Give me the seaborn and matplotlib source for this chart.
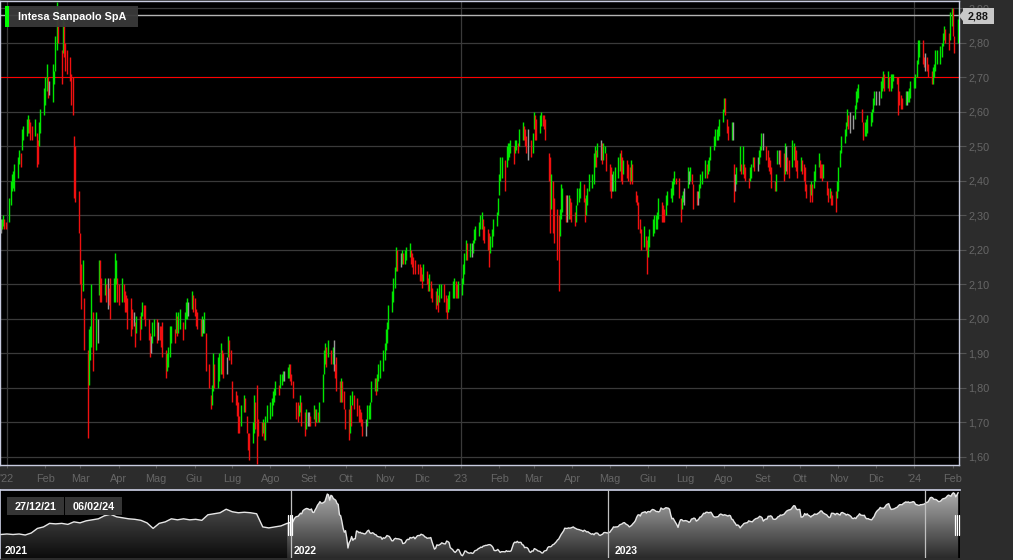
import numpy as np
import pandas as pd
import matplotlib
matplotlib.use("Agg")
import matplotlib.pyplot as plt
import matplotlib.dates as mdates
from matplotlib.colors import LinearSegmentedColormap
from matplotlib.patches import Polygon, Rectangle
import seaborn as sns

# daily (high, low) bars, one list per month
dec21 = [(2.29, 2.25), (2.29, 2.26), (2.30, 2.27), (2.29, 2.26), (2.28, 2.26)]
jan22 = [(2.35, 2.28), (2.40, 2.33), (2.42, 2.37), (2.43, 2.38), (2.45, 2.37),
         (2.47, 2.41), (2.49, 2.45), (2.48, 2.44), (2.55, 2.49), (2.56, 2.52),
         (2.58, 2.53), (2.59, 2.54), (2.58, 2.54), (2.57, 2.52), (2.56, 2.52),
         (2.58, 2.53), (2.54, 2.44), (2.52, 2.45), (2.57, 2.50), (2.61, 2.54),
         (2.67, 2.59)]
feb22 = [(2.70, 2.62), (2.74, 2.66), (2.70, 2.64), (2.69, 2.65), (2.74, 2.63),
         (2.72, 2.68), (2.82, 2.72), (2.92, 2.78), (2.87, 2.80), (2.78, 2.68),
         (2.88, 2.77), (2.86, 2.76), (2.80, 2.72), (2.78, 2.71), (2.76, 2.69),
         (2.71, 2.62), (2.70, 2.59), (2.53, 2.35), (2.50, 2.34), (2.37, 2.25)]
mar22 = [(2.25, 2.10), (2.16, 2.03), (2.17, 2.08), (2.06, 1.91), (1.91, 1.655),
         (1.97, 1.81), (1.98, 1.88), (2.10, 1.92), (2.02, 1.85), (2.02, 1.91),
         (2.00, 1.93), (2.17, 2.07), (2.17, 2.05), (2.12, 2.05), (2.12, 2.07),
         (2.10, 2.05), (2.12, 2.03), (2.09, 2.04), (2.12, 2.00), (2.12, 2.05),
         (2.19, 2.05), (2.17, 2.10), (2.12, 2.05)]
apr22 = [(2.10, 2.04), (2.12, 2.05), (2.10, 2.05), (2.08, 2.02), (2.07, 2.02),
         (2.06, 1.97), (2.06, 1.95), (2.03, 1.97), (2.02, 1.98), (1.99, 1.92),
         (2.01, 1.96), (2.01, 1.94), (2.02, 1.97), (2.05, 2.01), (2.04, 2.00),
         (2.04, 1.98), (2.00, 1.94), (1.96, 1.89), (1.95, 1.90), (1.99, 1.93),
         (2.00, 1.95)]
may22 = [(2.00, 1.93), (1.99, 1.94), (1.98, 1.94), (1.98, 1.92), (1.99, 1.89),
         (1.91, 1.83), (1.90, 1.85), (1.92, 1.86), (1.98, 1.89), (1.98, 1.93),
         (1.97, 1.93), (2.02, 1.96), (2.01, 1.95), (2.02, 1.96), (2.03, 1.97),
         (1.99, 1.94), (2.02, 1.97), (2.05, 2.00), (2.06, 2.00), (2.05, 2.01),
         (2.08, 2.03), (2.07, 2.02)]
jun22 = [(2.06, 2.01), (2.03, 1.98), (2.02, 1.97), (2.00, 1.95), (2.01, 1.95),
         (2.00, 1.96), (2.02, 1.96), (1.96, 1.85), (1.87, 1.80), (1.78, 1.74),
         (1.81, 1.75), (1.90, 1.79), (1.87, 1.80), (1.89, 1.80), (1.90, 1.82),
         (1.93, 1.84), (1.91, 1.84), (1.90, 1.83), (1.89, 1.84), (1.95, 1.89),
         (1.94, 1.88), (1.91, 1.87)]
jul22 = [(1.82, 1.76), (1.79, 1.75), (1.78, 1.72), (1.76, 1.67), (1.72, 1.67),
         (1.75, 1.69), (1.78, 1.73), (1.77, 1.73), (1.72, 1.67), (1.67, 1.62),
         (1.67, 1.59), (1.70, 1.64), (1.78, 1.67), (1.76, 1.68), (1.81, 1.58),
         (1.71, 1.66), (1.70, 1.66), (1.71, 1.67), (1.70, 1.65), (1.72, 1.65),
         (1.75, 1.70)]
aug22 = [(1.76, 1.71), (1.77, 1.72), (1.79, 1.75), (1.80, 1.76), (1.82, 1.78),
         (1.81, 1.78), (1.84, 1.80), (1.84, 1.81), (1.85, 1.82), (1.85, 1.82),
         (1.86, 1.83), (1.87, 1.83), (1.87, 1.82), (1.84, 1.81), (1.82, 1.77),
         (1.76, 1.71), (1.76, 1.70), (1.75, 1.72), (1.78, 1.73), (1.76, 1.69),
         (1.73, 1.66), (1.74, 1.68), (1.73, 1.69)]
sep22 = [(1.73, 1.69), (1.72, 1.69), (1.75, 1.71), (1.74, 1.69), (1.74, 1.70),
         (1.73, 1.70), (1.76, 1.70), (1.84, 1.76), (1.91, 1.84), (1.93, 1.87),
         (1.92, 1.86), (1.94, 1.89), (1.91, 1.87), (1.92, 1.87), (1.94, 1.85),
         (1.87, 1.83), (1.89, 1.79), (1.82, 1.76), (1.83, 1.76), (1.82, 1.76),
         (1.79, 1.74), (1.74, 1.68)]
oct22 = [(1.74, 1.65), (1.78, 1.67), (1.75, 1.69), (1.79, 1.75), (1.78, 1.74),
         (1.77, 1.72), (1.75, 1.70), (1.74, 1.70), (1.73, 1.69), (1.71, 1.66),
         (1.71, 1.66), (1.75, 1.69), (1.75, 1.71), (1.76, 1.71), (1.82, 1.76),
         (1.83, 1.79), (1.83, 1.78), (1.84, 1.79), (1.87, 1.82), (1.88, 1.83),
         (1.91, 1.85)]
nov22 = [(1.93, 1.88), (1.97, 1.91), (1.99, 1.93), (2.04, 1.97), (2.08, 2.02),
         (2.12, 2.05), (2.15, 2.09), (2.21, 2.14), (2.20, 2.14), (2.19, 2.15),
         (2.20, 2.16), (2.19, 2.16), (2.20, 2.16), (2.21, 2.17), (2.22, 2.18),
         (2.20, 2.16), (2.19, 2.15), (2.18, 2.13), (2.17, 2.13), (2.16, 2.13),
         (2.16, 2.11), (2.15, 2.11)]
dec22 = [(2.13, 2.09), (2.16, 2.11), (2.14, 2.10), (2.12, 2.08), (2.13, 2.08),
         (2.11, 2.06), (2.09, 2.05), (2.08, 2.03), (2.09, 2.04), (2.07, 2.02),
         (2.10, 2.05), (2.10, 2.06), (2.10, 2.05), (2.07, 2.02), (2.06, 2.00),
         (2.07, 2.02), (2.08, 2.03), (2.11, 2.06), (2.12, 2.06), (2.11, 2.06),
         (2.10, 2.06), (2.11, 2.06)]
jan23 = [(2.12, 2.07), (2.16, 2.10), (2.19, 2.13), (2.23, 2.17), (2.22, 2.17),
         (2.22, 2.18), (2.22, 2.18), (2.23, 2.19), (2.26, 2.22), (2.27, 2.23),
         (2.28, 2.24), (2.30, 2.26), (2.31, 2.26), (2.29, 2.23), (2.27, 2.22),
         (2.26, 2.20), (2.25, 2.15), (2.24, 2.19), (2.26, 2.21), (2.29, 2.24),
         (2.31, 2.27), (2.35, 2.30)]
feb23 = [(2.42, 2.36), (2.47, 2.40), (2.47, 2.41), (2.46, 2.37), (2.50, 2.44),
         (2.51, 2.46), (2.51, 2.47), (2.52, 2.48), (2.50, 2.45), (2.52, 2.48),
         (2.52, 2.49), (2.51, 2.48), (2.55, 2.50), (2.57, 2.52), (2.56, 2.52),
         (2.55, 2.50), (2.53, 2.48), (2.55, 2.46), (2.52, 2.47), (2.54, 2.48)]
mar23 = [(2.60, 2.55), (2.59, 2.52), (2.58, 2.52), (2.59, 2.54), (2.60, 2.56),
         (2.59, 2.56), (2.59, 2.55), (2.58, 2.52), (2.48, 2.40), (2.47, 2.25),
         (2.42, 2.32), (2.40, 2.25), (2.35, 2.22), (2.32, 2.17), (2.30, 2.08),
         (2.32, 2.24), (2.39, 2.29), (2.38, 2.31), (2.36, 2.28), (2.36, 2.28),
         (2.36, 2.29), (2.35, 2.29), (2.34, 2.28)]
apr23 = [(2.31, 2.27), (2.33, 2.28), (2.38, 2.33), (2.38, 2.34), (2.40, 2.35),
         (2.39, 2.34), (2.35, 2.28), (2.36, 2.30), (2.38, 2.33), (2.42, 2.37),
         (2.42, 2.38), (2.48, 2.39), (2.50, 2.44), (2.49, 2.44), (2.51, 2.47),
         (2.52, 2.46), (2.51, 2.45), (2.51, 2.46), (2.50, 2.48), (2.48, 2.43)]
may23 = [(2.45, 2.37), (2.44, 2.35), (2.42, 2.37), (2.43, 2.37), (2.44, 2.37),
         (2.47, 2.41), (2.48, 2.43), (2.49, 2.40), (2.47, 2.39), (2.46, 2.42),
         (2.46, 2.41), (2.45, 2.40), (2.44, 2.39), (2.46, 2.40), (2.45, 2.39),
         (2.37, 2.34), (2.36, 2.33), (2.34, 2.26), (2.29, 2.25), (2.26, 2.20),
         (2.27, 2.21), (2.24, 2.20), (2.23, 2.13)]
jun23 = [(2.24, 2.18), (2.26, 2.21), (2.29, 2.24), (2.30, 2.25), (2.30, 2.26),
         (2.31, 2.26), (2.35, 2.29), (2.34, 2.28), (2.33, 2.28), (2.32, 2.28),
         (2.36, 2.30), (2.37, 2.33), (2.38, 2.35), (2.40, 2.34), (2.41, 2.36),
         (2.43, 2.39), (2.41, 2.39), (2.41, 2.35), (2.35, 2.28), (2.36, 2.32),
         (2.37, 2.34), (2.38, 2.33)]
jul23 = [(2.44, 2.38), (2.43, 2.39), (2.44, 2.40), (2.42, 2.39), (2.39, 2.32),
         (2.37, 2.33), (2.37, 2.33), (2.39, 2.35), (2.42, 2.38), (2.43, 2.39),
         (2.46, 2.41), (2.45, 2.41), (2.46, 2.42), (2.47, 2.43), (2.50, 2.46),
         (2.53, 2.49), (2.55, 2.50), (2.55, 2.52), (2.56, 2.52), (2.58, 2.53),
         (2.61, 2.57)]
aug23 = [(2.64, 2.60), (2.64, 2.59), (2.58, 2.54), (2.56, 2.52), (2.57, 2.52),
         (2.57, 2.52), (2.45, 2.34), (2.42, 2.37), (2.44, 2.39), (2.50, 2.43),
         (2.45, 2.42), (2.50, 2.42), (2.45, 2.41), (2.44, 2.40), (2.41, 2.38),
         (2.44, 2.40), (2.45, 2.41), (2.47, 2.44), (2.47, 2.43), (2.47, 2.43),
         (2.49, 2.45), (2.50, 2.47), (2.54, 2.49)]
sep23 = [(2.54, 2.49), (2.50, 2.46), (2.49, 2.44), (2.47, 2.43), (2.46, 2.42),
         (2.44, 2.38), (2.40, 2.37), (2.42, 2.37), (2.49, 2.45), (2.49, 2.45),
         (2.49, 2.44), (2.48, 2.40), (2.51, 2.42), (2.50, 2.43), (2.47, 2.42),
         (2.46, 2.41), (2.52, 2.44), (2.51, 2.46), (2.50, 2.44), (2.49, 2.43),
         (2.46, 2.41)]
oct23 = [(2.47, 2.43), (2.46, 2.42), (2.45, 2.40), (2.44, 2.37), (2.39, 2.35),
         (2.39, 2.34), (2.40, 2.36), (2.39, 2.34), (2.43, 2.38), (2.45, 2.40),
         (2.48, 2.44), (2.46, 2.41), (2.45, 2.41), (2.45, 2.40), (2.45, 2.41),
         (2.40, 2.36), (2.38, 2.34), (2.38, 2.35), (2.37, 2.33), (2.36, 2.33),
         (2.37, 2.31), (2.40, 2.35)]
nov23 = [(2.44, 2.37), (2.49, 2.44), (2.53, 2.48), (2.55, 2.51), (2.57, 2.53),
         (2.61, 2.56), (2.59, 2.55), (2.60, 2.54), (2.59, 2.55), (2.62, 2.58),
         (2.66, 2.61), (2.67, 2.63), (2.68, 2.64), (2.61, 2.57), (2.57, 2.52),
         (2.57, 2.53), (2.58, 2.53), (2.59, 2.54), (2.60, 2.56), (2.61, 2.57),
         (2.64, 2.60), (2.66, 2.62)]
dec23 = [(2.66, 2.62), (2.66, 2.62), (2.69, 2.64), (2.70, 2.66), (2.72, 2.67),
         (2.71, 2.66), (2.72, 2.67), (2.70, 2.66), (2.71, 2.66), (2.71, 2.67),
         (2.71, 2.69), (2.70, 2.68), (2.70, 2.59), (2.66, 2.62), (2.65, 2.61),
         (2.64, 2.61), (2.66, 2.62), (2.66, 2.62), (2.66, 2.63), (2.67, 2.63),
         (2.69, 2.64)]
jan24 = [(2.70, 2.67), (2.71, 2.67), (2.75, 2.70), (2.81, 2.74), (2.81, 2.76),
         (2.81, 2.74), (2.76, 2.73), (2.77, 2.72), (2.76, 2.72), (2.74, 2.70),
         (2.72, 2.68), (2.73, 2.68), (2.74, 2.70), (2.78, 2.72), (2.78, 2.74),
         (2.79, 2.74), (2.80, 2.76), (2.83, 2.79), (2.85, 2.81), (2.84, 2.80),
         (2.83, 2.78), (2.89, 2.81), (2.90, 2.85)]
feb24 = [(2.90, 2.82), (2.82, 2.77), (2.87, 2.80), (2.90, 2.86)]

months = [("2021-12", dec21), ("2022-01", jan22), ("2022-02", feb22), ("2022-03", mar22),
          ("2022-04", apr22), ("2022-05", may22), ("2022-06", jun22), ("2022-07", jul22),
          ("2022-08", aug22), ("2022-09", sep22), ("2022-10", oct22), ("2022-11", nov22),
          ("2022-12", dec22), ("2023-01", jan23), ("2023-02", feb23), ("2023-03", mar23),
          ("2023-04", apr23), ("2023-05", may23), ("2023-06", jun23), ("2023-07", jul23),
          ("2023-08", aug23), ("2023-09", sep23), ("2023-10", oct23), ("2023-11", nov23),
          ("2023-12", dec23), ("2024-01", jan24), ("2024-02", feb24)]

# weekly closes for 2021 shown only in the navigator
nav_2021 = [2.05, 2.06, 2.05, 2.06, 2.04, 2.08, 2.17, 2.20, 2.27, 2.26,
            2.27, 2.25, 2.30, 2.28, 2.32, 2.34, 2.36, 2.42, 2.45, 2.40,
            2.38, 2.36, 2.35, 2.33, 2.28, 2.17, 2.27, 2.30, 2.36, 2.34,
            2.36, 2.34, 2.35, 2.33, 2.44, 2.46, 2.48, 2.55, 2.50, 2.48,
            2.49, 2.48, 2.46, 2.20, 2.18, 2.20, 2.22]

title = "Intesa Sanpaolo SpA"
last_price = 2.88
ref_level = 2.70
range_from, range_to = "27/12/21", "06/02/24"
nav_years = ["2021", "2022", "2023"]
mesi = ["Gen", "Feb", "Mar", "Apr", "Mag", "Giu", "Lug", "Ago", "Set", "Ott", "Nov", "Dic"]
price_ticks = [1.6, 1.7, 1.8, 1.9, 2.0, 2.1, 2.2, 2.3, 2.4, 2.5, 2.6, 2.7, 2.8, 2.9]

# ---- build the daily table
rows = []
for ym, bars in months:
    start = pd.Timestamp(ym + "-01")
    days = pd.bdate_range(start, start + pd.offsets.MonthEnd(0))
    if ym == "2021-12":
        days = days[days >= "2021-12-27"]
    for d, (hi, lo) in zip(days, bars):
        rows.append((d, hi, lo))
df = pd.DataFrame(rows, columns=["date", "high", "low"])
df["mid"] = (df["high"] + df["low"]) / 2
chg = df["mid"].diff().fillna(0)
df["color"] = np.where(chg > 0.004, "#00e600", np.where(chg < -0.004, "#f01010", "#9a9a9a"))

BG = "#2c2c2c"
FRAME = "#c8cce0"
TXT = "#666666"
GRID = "#3a3a3a"

sns.set_theme(style="dark")
plt.rcParams["font.family"] = ["Liberation Sans", "DejaVu Sans"]

fig = plt.figure(figsize=(10.13, 5.6), dpi=100, facecolor=BG)

# ---- main price chart
ax = fig.add_axes([0, 95 / 560, 959 / 1013, 464 / 560])
ax.set_facecolor("black")
xd = mdates.date2num(df["date"])
ax.vlines(xd, df["low"], df["high"], colors=df["color"], linewidth=1.0, zorder=3)

ax.axhline(ref_level, color="#ff0000", lw=0.75, zorder=2, snap=True)
ax.axhline(last_price, color="#b4b4b4", lw=1.0, zorder=2)

x0 = mdates.date2num(pd.Timestamp("2021-12-26 12:00"))
ax.set_xlim(x0, x0 + 959 / 1.243)
ax.set_ylim(1.5768, 2.9217)

ax.set_yticks(price_ticks)
ax.set_yticklabels([f"{t:.2f}".replace(".", ",") for t in price_ticks])
ax.yaxis.tick_right()
ax.yaxis.grid(True, color=GRID, lw=0.9)
ax.xaxis.grid(False)
ax.set_axisbelow(True)

month_starts = pd.date_range("2022-01-01", "2024-02-01", freq="MS")
mlabels = ["'" + str(d.year)[2:] if d.month == 1 else mesi[d.month - 1] for d in month_starts]
ax.set_xticks(mdates.date2num(month_starts))
ax.set_xticklabels(mlabels)
for d in month_starts[month_starts.month == 1]:
    ax.axvline(mdates.date2num(d), color=GRID, lw=0.9, zorder=1)

ax.tick_params(axis="y", right=True, left=False, labelright=True, labelleft=False,
               length=5, width=0.8, pad=1.5, color="#555555", labelcolor=TXT, labelsize=7.8)
ax.tick_params(axis="x", bottom=True, length=2.5, width=0.8, pad=4, color="#555555",
               labelcolor=TXT, labelsize=7.8)
for s in ax.spines.values():
    s.set_color(FRAME)
    s.set_linewidth(1)

# ---- navigator
nav = fig.add_axes([0, 2 / 560, 960 / 1013, 68 / 560])
nav.set_facecolor("black")
n0 = 225
nav_idx = np.array(list(range(-10, 221, 5)) + list(range(n0, n0 + len(df))))
nav_val = np.array(nav_2021 + list(df["mid"]))
ny0, ny1 = 1.585, 2.93


def gradient_area(axn, xs, ys, c_top, c_bottom):
    verts = [(xs[0], ny0)] + list(zip(xs, ys)) + [(xs[-1], ny0)]
    clip = Polygon(verts, closed=True, fc="none", ec="none")
    axn.add_patch(clip)
    cmap = LinearSegmentedColormap.from_list("fade", [c_bottom, c_top])
    img = axn.imshow(np.linspace(0, 1, 128).reshape(-1, 1), cmap=cmap, origin="lower",
                     extent=[xs[0], xs[-1], ny0, ny1], aspect="auto", zorder=1)
    img.set_clip_path(clip)


sel = nav_idx >= n0
gradient_area(nav, nav_idx[nav_idx <= n0], nav_val[nav_idx <= n0], "#5c5c5c", "#0c0c0c")
gradient_area(nav, nav_idx[sel], nav_val[sel], "#b0b0b0", "#2a2a2a")
sns.lineplot(x=nav_idx, y=nav_val, ax=nav, color="#e6e6e6", lw=1, legend=False, zorder=3)

year_first = [n0 + int(np.argmax(df["date"].dt.year == y)) for y in (2022, 2023, 2024)]
for i in year_first:
    nav.axvline(i - 1.5, color="#c0c0c0", lw=0.9, zorder=4)

nav.set_xlim(-10.7, 777.5)
nav.set_ylim(ny0, ny1)
nav.set_xticks([])
nav.set_yticks([])
nav.set_xlabel("")
nav.set_ylabel("")
nav.grid(False)
for k, s in nav.spines.items():
    s.set_color(FRAME)
    s.set_visible(k in ("top", "left"))

# ---- overlay for labels and boxes (pixel coordinates)
ov = fig.add_axes([0, 0, 1, 1], zorder=10)
ov.set_xlim(0, 1013)
ov.set_ylim(560, 0)
ov.axis("off")
ov.patch.set_alpha(0)

ov.add_patch(Rectangle((9, 6), 129, 21, fc="#3a3a3a", ec="none", alpha=0.95))
ov.add_patch(Rectangle((5, 6), 4, 21, fc="#00ff00", ec="none"))
ov.text(18, 16.5, title, color="white", fontsize=7.8, fontweight="bold", va="center", ha="left")

ov.add_patch(Polygon([(959, 16), (963, 11), (963, 21)], closed=True, fc="#c8c8c8", ec="none"))
ov.add_patch(Rectangle((963, 8), 31, 16, fc="#c8c8c8", ec="none"))
ov.text(978.5, 16.5, f"{last_price:.2f}".replace(".", ","), color="#151515", fontsize=7.7,
        fontweight="bold", ha="center", va="center")

for bx, label in ((7, range_from), (65, range_to)):
    ov.add_patch(Rectangle((bx, 497), 57, 18, fc="#353535", ec="none"))
    ov.text(bx + 28.5, 506.5, label, color="white", fontsize=7.8, fontweight="bold",
            ha="center", va="center")

for px, label in zip((5, 294, 615), nav_years):
    ov.text(px, 556, label, color="white", fontsize=7.5, fontweight="bold", ha="left", va="bottom")

for hx in (287.5, 289.5, 291.5, 954.5, 956.5, 958.5):
    ov.plot([hx, hx], [515, 535], color="white", lw=0.9)

fig.savefig("out.png", dpi=100, facecolor=BG)
